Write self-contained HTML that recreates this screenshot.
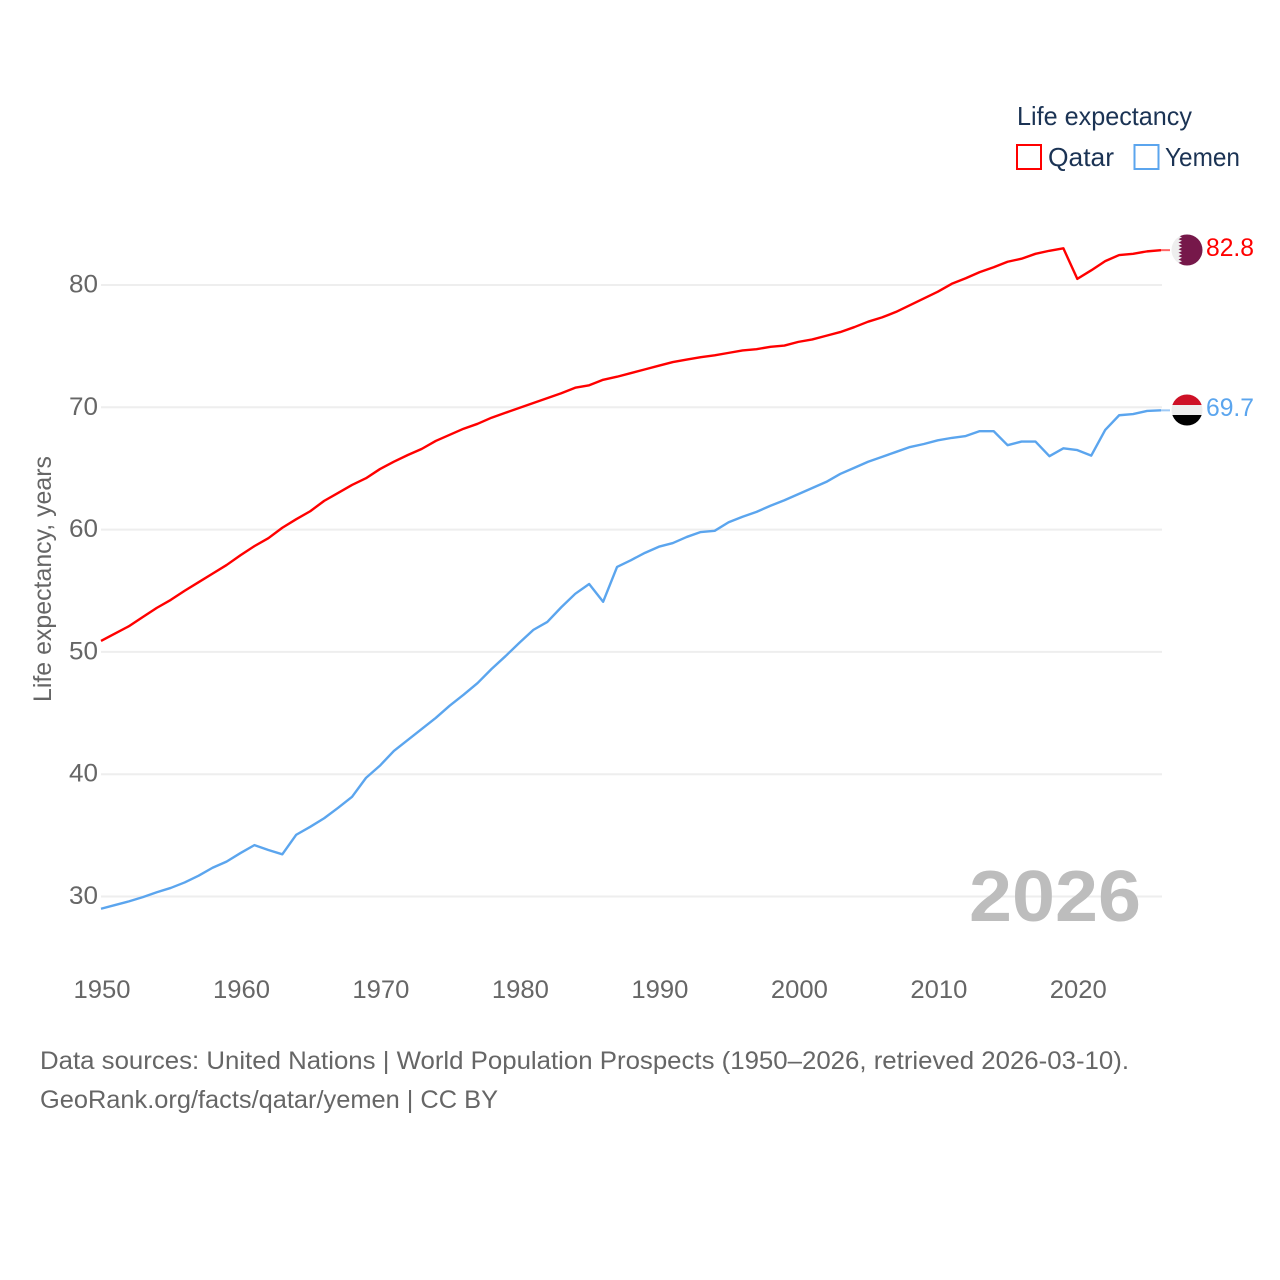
<!DOCTYPE html>
<html lang="en">
<head>
<meta charset="utf-8">
<title>Life expectancy: Qatar and Yemen</title>
<style>
html,body{margin:0;padding:0;background:#fff;width:1280px;height:1280px;overflow:hidden}
svg{display:block;font-family:"Liberation Sans",sans-serif}
</style>
</head>
<body>
<svg id="chart" xmlns="http://www.w3.org/2000/svg" width="1280" height="1280" viewBox="0 0 1280 1280">
  <rect width="1280" height="1280" fill="#fff"/>
  <g id="grid"></g>
  <g id="yticks"></g>
  <g id="xticks"></g>
  <text transform="translate(51,702) rotate(-90)" font-size="25" fill="#666" textLength="246" lengthAdjust="spacingAndGlyphs">Life expectancy, years</text>
  <text x="969" y="921" font-size="72" font-weight="700" fill="#bdbdbd" textLength="172" lengthAdjust="spacingAndGlyphs">2026</text>
  <g id="series"></g>

  <g>
    <clipPath id="qa-clip"><circle cx="1187" cy="250" r="15.5"/></clipPath>
    <g clip-path="url(#qa-clip)">
      <rect x="1171" y="234" width="32" height="32" fill="#eeeeee"/>
      <polygon fill="#76184a" points="1203,234 1182,234 1178.5,235.7 1182,237.4 1178.5,239.1 1182,240.8 1178.5,242.5 1182,244.2 1178.5,245.9 1182,247.6 1178.5,249.3 1182,251 1178.5,252.7 1182,254.4 1178.5,256.1 1182,257.8 1178.5,259.5 1182,261.2 1178.5,262.9 1182,264.6 1178.5,266 1203,266"/>
    </g>
  </g>
  <g>
    <clipPath id="ye-clip"><circle cx="1187" cy="410" r="15.5"/></clipPath>
    <g clip-path="url(#ye-clip)">
      <rect x="1171" y="394" width="32" height="11" fill="#ce1126"/>
      <rect x="1171" y="405" width="32" height="10" fill="#eeeeee"/>
      <rect x="1171" y="415" width="32" height="11" fill="#000000"/>
    </g>
  </g>
  <text x="1206" y="256" font-size="25" fill="#ff0000" textLength="48" lengthAdjust="spacingAndGlyphs">82.8</text>
  <text x="1206" y="416" font-size="25" fill="#5ba5ee" textLength="48" lengthAdjust="spacingAndGlyphs">69.7</text>

  <g>
    <text x="1017" y="125" font-size="26" fill="#1b3354" textLength="175" lengthAdjust="spacingAndGlyphs">Life expectancy</text>
    <rect x="1017" y="145" width="24" height="24" fill="#fff" stroke="#ff0000" stroke-width="2"/>
    <text x="1048" y="166" font-size="26" fill="#1b3354" textLength="66" lengthAdjust="spacingAndGlyphs">Qatar</text>
    <rect x="1134.5" y="145" width="24" height="24" fill="#fff" stroke="#5ba5ee" stroke-width="2"/>
    <text x="1165" y="166" font-size="26" fill="#1b3354" textLength="75" lengthAdjust="spacingAndGlyphs">Yemen</text>
  </g>

  <g>
    <text x="40" y="1069" font-size="25" fill="#666" textLength="1089" lengthAdjust="spacingAndGlyphs">Data sources: United Nations | World Population Prospects (1950–2026, retrieved 2026-03-10).</text>
    <text x="40" y="1108" font-size="25" fill="#666" textLength="458" lengthAdjust="spacingAndGlyphs">GeoRank.org/facts/qatar/yemen | CC BY</text>
  </g>
</svg>
<script>
const startYear = 1950;
const endYear = 2026;
const yTickValues = [30, 40, 50, 60, 70, 80];
const xTickValues = [1950, 1960, 1970, 1980, 1990, 2000, 2010, 2020];
const qatarValues = [
  50.9, 51.5, 52.1, 52.85, 53.6, 54.25, 55.0, 55.7, 56.4, 57.1,
  57.9, 58.65, 59.3, 60.15, 60.85, 61.5, 62.35, 63.0, 63.65, 64.2,
  64.95, 65.55, 66.1, 66.6, 67.25, 67.75, 68.25, 68.65, 69.15, 69.55,
  69.95, 70.35, 70.75, 71.15, 71.6, 71.8, 72.25, 72.5, 72.8, 73.1,
  73.4, 73.7, 73.9, 74.1, 74.25, 74.45, 74.65, 74.75, 74.95, 75.05,
  75.35, 75.55, 75.85, 76.15, 76.55, 77.0, 77.35, 77.8, 78.35, 78.9,
  79.45, 80.1, 80.55, 81.05, 81.45, 81.9, 82.15, 82.55, 82.8, 83.0,
  80.5, 81.2, 81.95, 82.45, 82.55, 82.75, 82.85
];
const yemenValues = [
  29.0, 29.3, 29.6, 29.95, 30.35, 30.7, 31.15, 31.7, 32.35, 32.85,
  33.55, 34.2, 33.8, 33.45, 35.05, 35.7, 36.4, 37.25, 38.15, 39.7,
  40.7, 41.9, 42.8, 43.7, 44.6, 45.6, 46.5, 47.45, 48.6, 49.65,
  50.75, 51.8, 52.45, 53.65, 54.75, 55.55, 54.1, 56.95, 57.5, 58.1,
  58.6, 58.9, 59.4, 59.8, 59.9, 60.6, 61.05, 61.45, 61.95, 62.4,
  62.9, 63.4, 63.9, 64.55, 65.05, 65.55, 65.95, 66.35, 66.75, 67.0,
  67.3, 67.5, 67.65, 68.05, 68.05, 66.9, 67.2, 67.2, 66.0, 66.65,
  66.5, 66.05, 68.15, 69.35, 69.45, 69.7, 69.75
];

const SVGNS = 'http://www.w3.org/2000/svg';
const plotLeft = 101, plotRight = 1161;
function xScale(year) {
  return plotLeft + (year - startYear) * (plotRight - plotLeft) / (endYear - startYear);
}
function yScale(value) {
  return 285 + (80 - value) * 12.23;
}
function make(tag, parent, attrs) {
  const el = document.createElementNS(SVGNS, tag);
  for (const k in attrs) el.setAttribute(k, attrs[k]);
  parent.appendChild(el);
  return el;
}

const gridGroup = document.getElementById('grid');
const yGroup = document.getElementById('yticks');
const xGroup = document.getElementById('xticks');
const seriesGroup = document.getElementById('series');

yTickValues.forEach(function (v) {
  const line = make('line', gridGroup, {x1: plotLeft, x2: plotRight + 1, y1: yScale(v), y2: yScale(v), stroke: '#eeeeee', 'stroke-width': 2});
  
  
  const t = make('text', yGroup, {x: 98, y: yScale(v) + 7.5, 'text-anchor': 'end', 'font-size': 25, fill: '#666', textLength: 29, lengthAdjust: 'spacingAndGlyphs'});
  t.textContent = String(v);
  
  
});

xTickValues.forEach(function (yr) {
  const t = make('text', xGroup, {x: xScale(yr) + 1, y: 998, 'text-anchor': 'middle', 'font-size': 25, fill: '#666', textLength: 57, lengthAdjust: 'spacingAndGlyphs'});
  t.textContent = String(yr);
  
  
});

function drawSeries(values, color, name) {
  const pts = values.map(function (v, i) {
    return xScale(startYear + i).toFixed(2) + ',' + yScale(v).toFixed(2);
  });
  const last = values[values.length - 1];
  const connector = make('line', seriesGroup, {x1: xScale(endYear), x2: xScale(endYear) + 9, y1: yScale(last), y2: yScale(last), stroke: color, 'stroke-width': 2, 'stroke-opacity': 0.6});
  
  
  const line = make('polyline', seriesGroup, {points: pts.join(' '), fill: 'none', stroke: color, 'stroke-width': 2.4, 'stroke-linejoin': 'round'});
  
  
}
drawSeries(qatarValues, '#ff0000', 'qatar');
drawSeries(yemenValues, '#5ba5ee', 'yemen');
</script>
</body>
</html>
